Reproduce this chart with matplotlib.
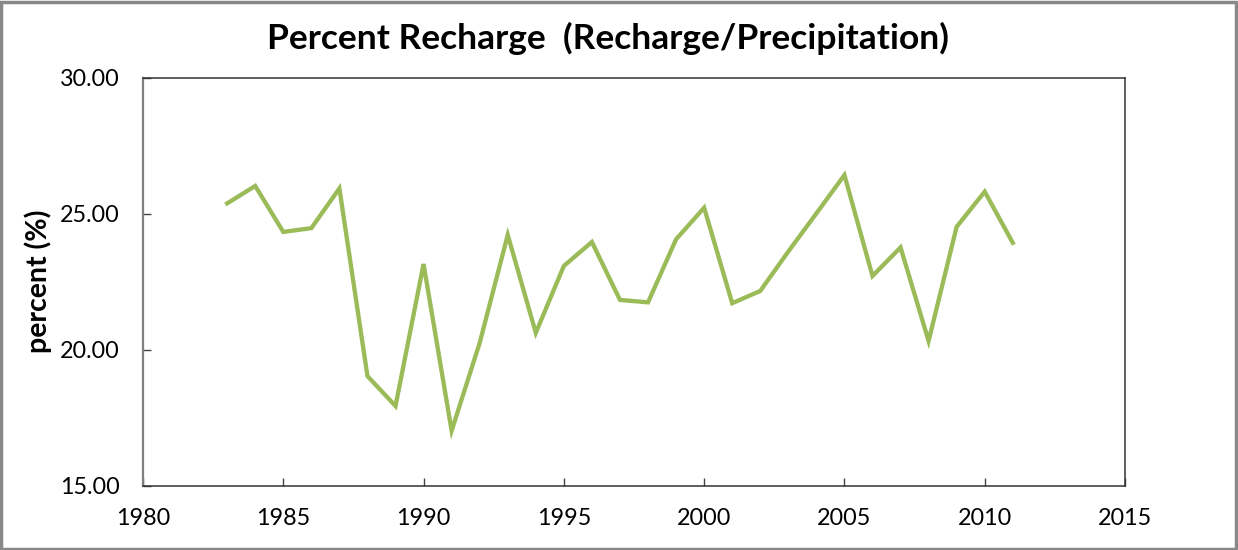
import matplotlib
matplotlib.use("Agg")
import matplotlib.pyplot as plt
from matplotlib.patches import Rectangle

years = list(range(1983, 2012))
recharge_pct = [25.38, 26.02, 24.33, 24.47, 25.93, 19.03, 17.93, 23.15, 17.02,
                20.25, 24.22, 20.62, 23.08, 23.96, 21.83, 21.74, 24.06, 25.22,
                21.71, 22.16, 23.61, 25.01, 26.42, 22.71, 23.76, 20.32, 24.52,
                25.81, 23.93]
x_ticks = [1980, 1985, 1990, 1995, 2000, 2005, 2010, 2015]
y_ticks = [15, 20, 25, 30]

plt.rcParams['font.family'] = ['Lato', 'DejaVu Sans']

fig = plt.figure(figsize=(12.38, 5.5), dpi=100)
ax = fig.add_axes([143 / 1238, 1 - 485.7 / 550, (1125 - 143) / 1238, (485.7 - 77.7) / 550])

ax.plot(years, recharge_pct, color='#9BBB59', linewidth=3.1, solid_joinstyle='miter')

ax.set_xlim(1980, 2015)
ax.set_ylim(15, 30)
ax.set_xticks(x_ticks)
ax.set_yticks(y_ticks)
ax.set_yticklabels([f"{v:.2f}" for v in y_ticks])
ax.tick_params(axis='both', direction='in', length=6, width=1, labelsize=16.8,
               colors='#444444', labelcolor='black')
ax.tick_params(axis='y', pad=17)
ax.tick_params(axis='x', pad=16)

for side in ['top', 'right', 'bottom']:
    ax.spines[side].set_color('#333333')
    ax.spines[side].set_linewidth(1.1)
ax.spines['left'].set_color('#808080')
ax.spines['left'].set_linewidth(1.6)

ax.yaxis.set_label_coords(-(143 - 38) / 982, (485.7 - 276) / 408)
ax.set_ylabel('percent (%)', fontsize=20.5, fontweight='bold', va='center')
fig.text(0.5 * (270 + 945) / 1238, 1 - 38 / 550, 'Percent Recharge  (Recharge/Precipitation)',
         ha='center', va='center', fontsize=25.5, fontweight='bold')

# Outer frame around the chart
fig.patches.append(Rectangle((0.001, 0.002), 0.997, 0.995, transform=fig.transFigure,
                             fill=False, edgecolor='#888888', linewidth=2.5))

fig.savefig('out.png', dpi=100, facecolor='white')
